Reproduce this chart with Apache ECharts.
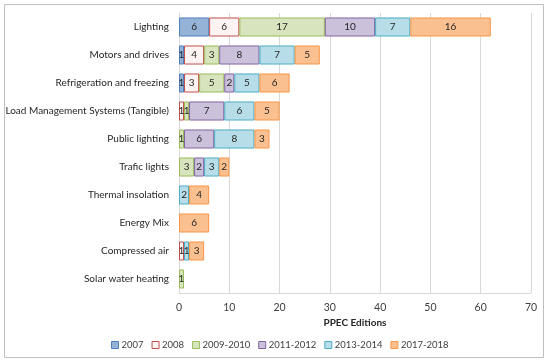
<!DOCTYPE html>
<html>
<head>
<meta charset="utf-8">
<script src="https://cdn.jsdelivr.net/npm/echarts@6/dist/echarts.min.js"></script>
<style>html,body{margin:0;padding:0;background:#fff}#c{width:550px;height:362px}</style>
</head>
<body>
<div id="c"></div>
<script>
const categories = ["Lighting","Motors and drives","Refrigeration and freezing","Load Management Systems (Tangible)","Public lighting","Trafic lights","Thermal insolation","Energy Mix","Compressed air","Solar water heating"];
const seriesNames = ["2007","2008","2009-2010","2011-2012","2013-2014","2017-2018"];
const v2007 = [6,1,1,0,0,0,0,0,0,0];
const v2008 = [6,4,3,1,0,0,0,0,1,0];
const v2009_2010 = [17,3,5,1,1,3,0,0,0,1];
const v2011_2012 = [10,8,2,7,6,2,0,0,0,0];
const v2013_2014 = [7,7,5,6,8,3,2,0,1,0];
const v2017_2018 = [16,5,6,5,3,2,4,6,3,0];
const xTicks = [0,10,20,30,40,50,60,70];

const values = [v2007,v2008,v2009_2010,v2011_2012,v2013_2014,v2017_2018];
const fills = ["#95b3d7","#fdf3f3","#d7e4bd","#ccc1da","#b7dee8","#fac090"];
const borders = ["#4f81bd","#c0504d","#9bbb59","#8064a2","#4bacc6","#f79646"];
const FONT = "Lato";

const chart = echarts.init(document.getElementById('c'));
chart.setOption({
  animation:false,
  textStyle:{fontFamily:FONT},
  grid:{left:179,right:19,top:13,bottom:69},
  xAxis:{type:'value',min:xTicks[0],max:xTicks[xTicks.length-1],interval:10,
    name:'PPEC Editions',nameLocation:'middle',nameGap:22,
    nameTextStyle:{fontFamily:FONT,fontSize:10,fontWeight:'bold',color:'#262626'},
    axisLine:{show:true,lineStyle:{color:'#d9d9d9'}},axisTick:{show:false},
    axisLabel:{fontFamily:FONT,fontSize:10.5,color:'#404040',margin:9},
    splitLine:{lineStyle:{color:'#d9d9d9',width:1}}},
  yAxis:{type:'category',data:categories,inverse:true,
    axisLine:{show:true,lineStyle:{color:'#d9d9d9'}},axisTick:{show:false},
    axisLabel:{fontFamily:FONT,fontSize:10,color:'#262626',margin:10}},
  legend:{left:106,top:335,itemWidth:7,itemHeight:7,itemGap:8,
    textStyle:{fontFamily:FONT,fontSize:9.5,color:'#404040',padding:[0,0,0,-2]},
    data:seriesNames.map((n,i)=>({name:n,icon:'rect',itemStyle:{color:fills[i],borderColor:borders[i],borderWidth:1}}))},
  graphic:[{type:'rect',shape:{x:4.5,y:4.5,width:539,height:353},style:{fill:'none',stroke:'#bfbfbf',lineWidth:1},silent:true}],
  series:seriesNames.map((n,i)=>({
    name:n,type:'bar',stack:'s',barCategoryGap:'32%',
    data:values[i].map(v=>v===0?null:v),
    itemStyle:{color:fills[i],borderColor:borders[i],borderWidth:1},
    label:{show:true,position:'inside',fontFamily:FONT,fontSize:10,color:'#262626',
      formatter:p=>p.value?String(p.value):''}
  }))
});
</script>
</body>
</html>
